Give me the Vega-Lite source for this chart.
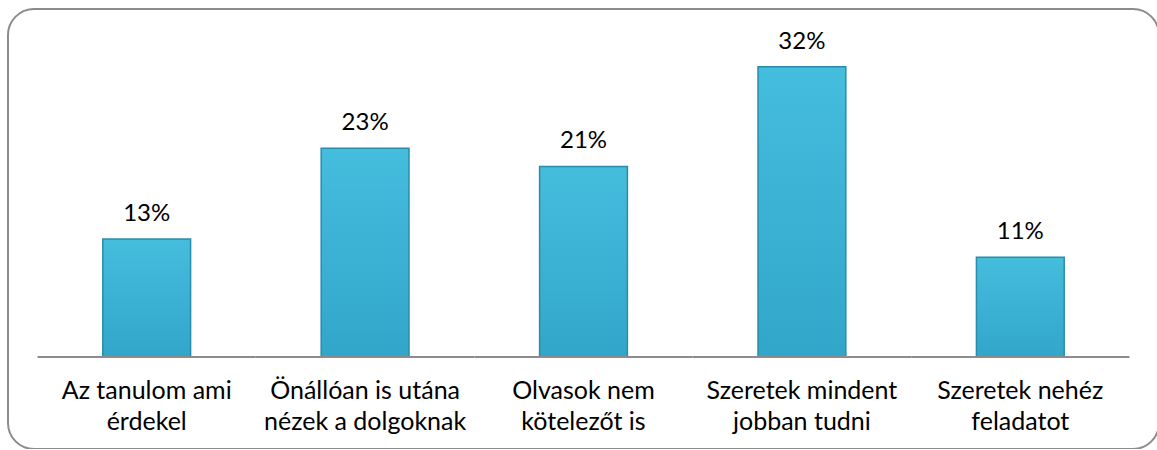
{
  "$schema": "https://vega.github.io/schema/vega-lite/v6.json",
  "width": 1151,
  "height": 440,
  "autosize": {"type": "none"},
  "padding": {"left": 8, "top": 9, "right": 0, "bottom": 0},
  "background": "white",
  "config": {
    "view": {"stroke": "#8c8c8c", "strokeWidth": 2, "cornerRadius": 26},
    "font": "Lato"
  },
  "data": {
    "values": [
      {"cat": "Az tanulom ami|érdekel", "v": 0.13},
      {"cat": "Önállóan is utána|nézek a dolgoknak", "v": 0.23},
      {"cat": "Olvasok nem|kötelezőt is", "v": 0.21},
      {"cat": "Szeretek mindent|jobban tudni", "v": 0.32},
      {"cat": "Szeretek nehéz|feladatot", "v": 0.11}
    ]
  },
  "encoding": {
    "x": {
      "field": "cat",
      "type": "nominal",
      "sort": null,
      "scale": {"paddingInner": 0.598, "paddingOuter": 0.434},
      "axis": {
        "title": null,
        "offset": -92,
        "domain": false,
        "ticks": false,
        "labelAngle": 0,
        "labelExpr": "split(datum.value, '|')",
        "labelFont": "Lato",
        "labelFontSize": 25,
        "labelColor": "#000000",
        "labelLineHeight": 31,
        "labelBaseline": "top",
        "labelPadding": 21,
        "labelLimit": 0
      }
    }
  },
  "layer": [
    {
      "mark": {
        "type": "bar",
        "color": {
          "gradient": "linear",
          "x1": 0, "y1": 0, "x2": 0, "y2": 1,
          "stops": [
            {"offset": 0, "color": "#45BDDD"},
            {"offset": 1, "color": "#31A6C9"}
          ]
        },
        "stroke": "#2A8CAC",
        "strokeWidth": 1.5
      },
      "encoding": {
        "y": {
          "field": "v",
          "type": "quantitative",
          "scale": {"domain": [-0.1015, 0.3836], "nice": false, "zero": false},
          "axis": null
        },
        "y2": {"datum": 0}
      }
    },
    {
      "mark": {"type": "text", "baseline": "alphabetic", "dy": -18, "fontSize": 24, "font": "Lato", "color": "#000000"},
      "encoding": {
        "y": {"field": "v", "type": "quantitative"},
        "text": {"field": "v", "type": "quantitative", "format": ".0%"}
      }
    },
    {
      "mark": {"type": "rule", "color": "#8c8c8c", "strokeWidth": 2},
      "encoding": {
        "x": {"field": "cat", "type": "nominal", "sort": null, "bandPosition": -0.743},
        "x2": {"field": "cat", "bandPosition": 1.743},
        "y": {"datum": 0}
      }
    }
  ]
}
